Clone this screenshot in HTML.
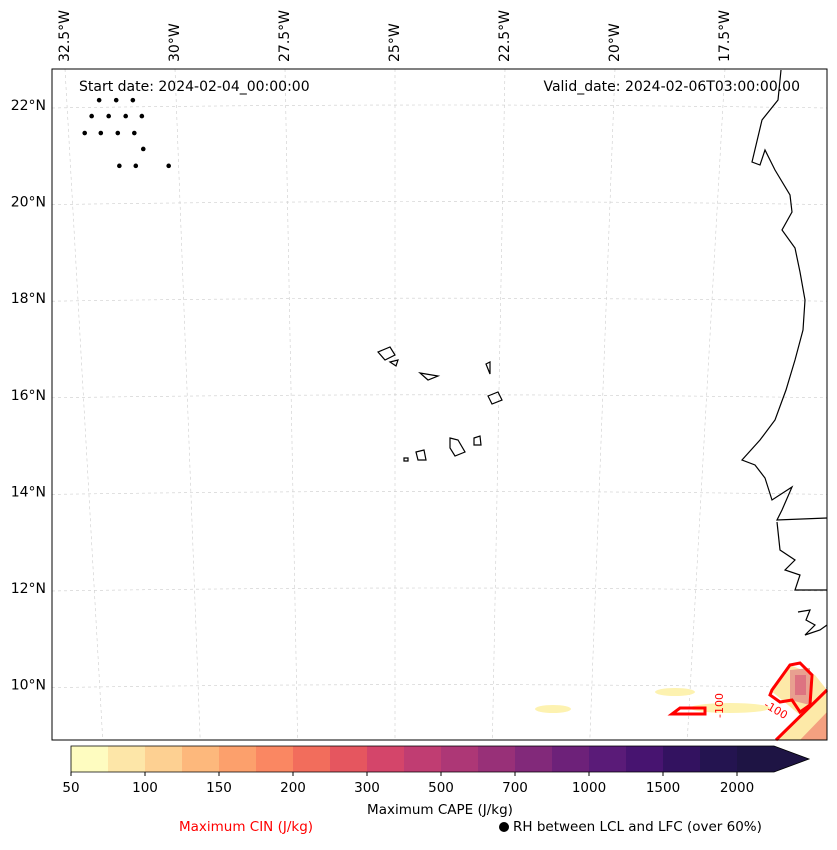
<!DOCTYPE html>
<html><head><meta charset="utf-8"><style>
body{margin:0;background:#fff;font-family:"Liberation Sans","DejaVu Sans",sans-serif}
svg text{font-family:"DejaVu Sans","Liberation Sans",sans-serif}
</style></head><body>
<svg id="c" width="837" height="845" viewBox="0 0 837 845" xmlns="http://www.w3.org/2000/svg">
<rect width="837" height="845" fill="#fff"/>
<g id="grid"></g>
<g id="fill">
<ellipse cx="553" cy="709" rx="18" ry="4" fill="#fdf2b0"/>
<ellipse cx="675" cy="692" rx="20" ry="4" fill="#fdf2b0"/>
<ellipse cx="730" cy="708" rx="40" ry="5" fill="#fdf2b0"/>
<path d="M770,690 L790,665 L815,675 L827,690 L827,740 L775,740 L800,715 Z" fill="#fde9a8"/>
<path d="M790,670 L810,668 L810,705 L790,700 Z" fill="#e8a090"/>
<path d="M795,675 L806,675 L806,695 L795,695 Z" fill="#d8607a" opacity="0.7"/>
<path d="M800,740 L827,712 L827,740 Z" fill="#f4a080"/>
</g>
<g id="cin" fill="none" stroke="#f00" stroke-width="3">
<path d="M772,690 L790,665 L800,663 L812,675 L810,705 L800,712 L792,700 L780,702 L770,695 Z"/>
<path d="M776,740 L827,690"/>
<path d="M672,714 L705,714 L705,708 L680,708 Z" stroke-width="3"/>
<text x="710" y="725" fill="#f00" stroke="none" font-size="11" transform="rotate(-90 713 715)">-100</text>
<text x="765" y="710" fill="#f00" stroke="none" font-size="11" transform="rotate(30 770 705)">-100</text>
</g>
<g id="coast" fill="none" stroke="#000" stroke-width="1.2">
<path d="M781,70 L778,100 L762,120 L752,162 L760,165 L765,150 L775,170 L790,195 L792,212 L782,230 L795,248 L800,272 L805,300 L803,330 L795,360 L786,390 L775,420 L760,440 L742,460 L755,465 L765,478 L772,500 L792,487 L782,510 L777,520 L827,518"/>
<path d="M777,522 L780,550 L795,560 L785,570 L800,575 L795,590 L827,590"/>
<path d="M798,612 L810,610 L806,620 L815,625 L805,635 L820,630 L827,625"/>
<path d="M378,352 L390,347 L395,355 L385,360 Z"/>
<path d="M390,362 L398,360 L396,366 Z"/>
<path d="M420,373 L438,376 L428,380 Z"/>
<path d="M486,364 L490,362 L490,374 Z"/>
<path d="M488,396 L498,392 L502,400 L492,404 Z"/>
<path d="M450,438 L458,440 L465,452 L455,456 L450,448 Z"/>
<path d="M474,438 L480,436 L481,445 L474,445 Z"/>
<path d="M416,452 L424,450 L426,460 L418,460 Z"/>
<path d="M404,458 L408,458 L408,461 L404,461 Z"/>
</g>
<g id="dots"></g>
<rect x="52" y="69" width="775" height="671" fill="none" stroke="#000" stroke-width="1"/>
<text x="79" y="91" font-size="14">Start date: 2024-02-04_00:00:00</text>
<text x="800" y="91" font-size="14" text-anchor="end">Valid_date: 2024-02-06T03:00:00.00</text>
<g id="lat" font-size="14"></g>
<g id="lon" font-size="14"></g>
<g id="cbar"></g>
<text x="440" y="814" font-size="13.5" text-anchor="middle">Maximum CAPE (J/kg)</text>
<text x="246" y="831" font-size="13.5" fill="#f00" text-anchor="middle">Maximum CIN (J/kg)</text>
<circle cx="504" cy="827" r="5" fill="#000"/>
<text x="513" y="831" font-size="13.5">RH between LCL and LFC (over 60%)</text>
</svg>
<script>
const latTicks=[22,20,18,16,14,12,10];
const lonTicks=["32.5°W","30°W","27.5°W","25°W","22.5°W","20°W","17.5°W"];
const lonVals=[-32.5,-30,-27.5,-25,-22.5,-20,-17.5];
const cbarLabels=["50","100","150","200","300","500","700","1000","1500","2000"];
const cbarColors=["#fefcc0","#fde6a8","#fdd092","#fdb87c","#fca06c","#fa8762","#f26d5c","#e5565f","#d4456a","#c03d72","#ad3776","#983078","#82297a","#6d2179","#5a1b78","#471470","#331260","#241450","#1e1444"];
const dotLon=[-31.76,-31.37,-30.99,-31.95,-31.56,-31.17,-30.80,-32.13,-31.76,-31.37,-30.99,-30.80,-31.37,-30.99,-30.23];
const dotLat=[22.10,22.10,22.10,21.77,21.77,21.77,21.77,21.42,21.42,21.42,21.42,21.09,20.74,20.74,20.74];
const NS="http://www.w3.org/2000/svg";
function yLat(l){return 105+(22-l)*48.3;}
function xLon(l,y){return 395+(l+25)*44+(l+25)*(y-69)*-0.0075;}
function mk(t,a,p){const e=document.createElementNS(NS,t);for(const k in a)e.setAttribute(k,a[k]);p.appendChild(e);return e;}
const g=document.getElementById('grid');
latTicks.forEach(l=>{const y=yLat(l);const e=mk('path',{d:`M52,${y+3} Q440,${y-3} 827,${y+3}`,stroke:'#ccc','stroke-dasharray':'3,3',fill:'none','stroke-width':0.6},g);


const t=mk('text',{x:46,y:y+5,'text-anchor':'end','font-size':14},document.getElementById('lat'));t.textContent=l+'°N';

});
lonVals.forEach((l,i)=>{const e=mk('line',{x1:xLon(l,69),y1:69,x2:xLon(l,740),y2:740,stroke:'#ccc','stroke-dasharray':'3,3','stroke-width':0.6},g);


const x=xLon(l,69)+4;const t=mk('text',{x:x,y:62,'font-size':14,transform:`rotate(-90 ${x} 62)`},document.getElementById('lon'));t.textContent=lonTicks[i];

});
const d=document.getElementById('dots');
dotLon.forEach((l,i)=>{const y=yLat(dotLat[i]);const c=mk('circle',{cx:xLon(l,y),cy:y,r:2.3,fill:'#000'},d);

});
const cb=document.getElementById('cbar');const x0=71,w=37,y0=746,h=26;
cbarColors.forEach((c,i)=>{const r=mk('rect',{x:x0+i*w,y:y0,width:w+0.5,height:h,fill:c},cb);

});
const end=x0+cbarColors.length*w;
const tri=mk('path',{d:`M${end},${y0} L${end+35},${y0+h/2} L${end},${y0+h} Z`,fill:'#1e1444'},cb);


mk('path',{d:`M${x0},${y0} L${end},${y0} L${end+35},${y0+h/2} L${end},${y0+h} L${x0},${y0+h} Z`,fill:'none',stroke:'#000','stroke-width':0.8},cb);
cbarLabels.forEach((s,i)=>{const x=x0+i*2*w;mk('line',{x1:x,y1:y0+h,x2:x,y2:y0+h+4,stroke:'#000'},cb);
const t=mk('text',{x:x,y:y0+h+20,'text-anchor':'middle','font-size':13.5},cb);t.textContent=s;

});
</script>
</body></html>
